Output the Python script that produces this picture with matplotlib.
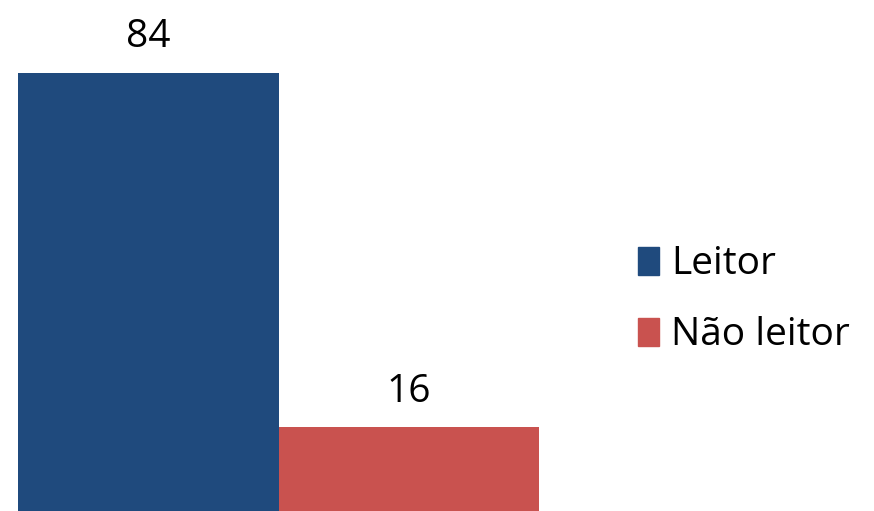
import matplotlib
matplotlib.use('Agg')
import matplotlib.pyplot as plt
from matplotlib.patches import Patch

categories = ['Leitor', 'Não leitor']
values = [84, 16]
colors = ['#1F4A7D', '#C9524F']

plt.rcParams['font.family'] = ['Open Sans', 'DejaVu Sans']

fig = plt.figure(figsize=(8.74, 5.11), dpi=100)
ax = fig.add_axes([18 / 874, 0, (539 - 18) / 874, 1])

x = list(range(len(values)))
bars = ax.bar(x, values, width=1.0, color=colors)
for xi, v in zip(x, values):
    ax.text(xi, v + 3.2, str(v), ha='center', va='bottom', fontsize=28)

ax.set_xlim(-0.5, 1.5)
ax.set_ylim(0, 97.9)
ax.axis('off')

handles = [Patch(color=c, label=l) for c, l in zip(colors, categories)]
fig.legend(handles=handles, loc='center left', bbox_to_anchor=(0.69, 0.413),
           frameon=False, fontsize=28, handlelength=0.55, handleheight=0.75,
           handletextpad=0.3, labelspacing=0.85)

fig.savefig('out.png', dpi=100)
